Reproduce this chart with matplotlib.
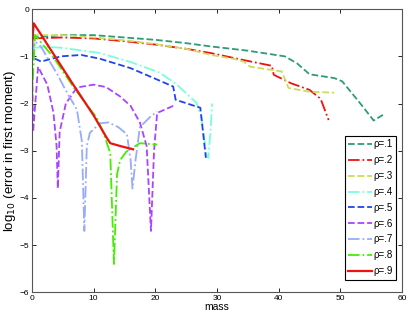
import matplotlib
matplotlib.use("Agg")
import matplotlib.pyplot as plt

plt.rcParams['font.family'] = ['Liberation Sans', 'DejaVu Sans']

# rho = .1
x1 = [0, 5, 10, 15, 20, 25, 29, 35, 41, 43, 45, 49, 50.3, 53, 55.4, 56.9]
y1 = [-0.6, -0.55, -0.55, -0.6, -0.65, -0.72, -0.79, -0.88, -1.0, -1.15, -1.38, -1.46, -1.53, -1.96, -2.36, -2.24]
# rho = .2
x2 = [0, 5, 10, 15, 20, 25, 29, 34, 38.9, 39.2, 42, 45, 46.8, 48.1]
y2 = [-0.62, -0.6, -0.62, -0.68, -0.75, -0.84, -0.93, -1.07, -1.2, -1.39, -1.57, -1.71, -1.9, -2.35]
# rho = .3
x3 = [0, 5, 10, 15, 20, 25, 29, 33, 34.3, 35.4, 40.5, 41.6, 45, 49]
y3 = [-0.55, -0.55, -0.6, -0.66, -0.74, -0.84, -0.97, -1.06, -1.11, -1.22, -1.32, -1.67, -1.75, -1.77]
# rho = .4
x4 = [0, 2.6, 5, 11, 16, 20.8, 23.5, 26.7, 27.5, 28.3, 28.6, 29, 29.2]
y4 = [-0.82, -0.8, -0.82, -0.93, -1.12, -1.35, -1.6, -1.99, -2.3, -3.1, -3.15, -2.5, -2.0]
# rho = .5
x5 = [0, 0.5, 1.5, 4.7, 8, 11, 16, 20.8, 22.9, 23.3, 27.3, 28.2]
y5 = [-0.85, -1.05, -1.11, -1.0, -0.97, -1.05, -1.25, -1.52, -1.64, -1.92, -2.09, -3.15]
# rho = .6
x6 = [0, 0.2, 1, 2.5, 3.5, 4, 4.2, 4.5, 5.5, 7.3, 10, 12, 14.3, 16, 17.5, 18.6, 19.3, 19.8, 20.3, 22.9]
y6 = [-1.0, -2.6, -1.22, -1.6, -2.2, -2.9, -3.8, -2.6, -2.0, -1.66, -1.6, -1.65, -1.85, -2.05, -2.4, -2.9, -4.7, -3.0, -2.2, -2.05]
# rho = .7
x7 = [0, 0.5, 1.5, 2.6, 4, 5.4, 7.3, 8.1, 8.5, 8.9, 9.4, 11, 12.4, 14, 15.4, 16, 16.3, 16.8, 17.5, 19.2, 20.3]
y7 = [-0.95, -0.68, -0.8, -1.05, -1.35, -1.7, -2.13, -2.8, -4.7, -2.9, -2.62, -2.42, -2.4, -2.5, -2.65, -3.2, -3.8, -3.2, -2.5, -2.28, -2.17]
# rho = .8
x8 = [0, 0.5, 3.5, 7, 10.5, 11.6, 12.7, 13.3, 13.8, 14.3, 15.3, 17.5, 20.3]
y8 = [-1.9, -0.55, -1.02, -1.7, -2.3, -2.62, -3.05, -5.4, -3.5, -3.2, -3.02, -2.84, -2.87]
# rho = .9
x9 = [0, 0.3, 3.5, 6.7, 10, 12.1, 12.7, 14.3, 16.4]
y9 = [-0.8, -0.3, -0.95, -1.6, -2.25, -2.72, -2.84, -2.9, -2.97]

labels = ["ρ=.1", "ρ=.2", "ρ=.3", "ρ=.4", "ρ=.5", "ρ=.6", "ρ=.7", "ρ=.8", "ρ=.9"]
xs = [x1, x2, x3, x4, x5, x6, x7, x8, x9]
ys = [y1, y2, y3, y4, y5, y6, y7, y8, y9]
colors = ["#2e9b7a", "#ee1111", "#ccdd55", "#77ffdd", "#2244ee", "#aa44ff", "#99aaff", "#44ee00", "#ee1111"]
styles = ["--", "-.", "--", "-.", "--", "--", "-.", "-.", "-"]
widths = [1.3, 1.3, 1.3, 1.3, 1.3, 1.3, 1.3, 1.3, 1.6]

fig = plt.figure(figsize=(4.09, 3.16), dpi=100)
ax = fig.add_axes([0.078, 0.075, 0.905, 0.896])
for x, y, c, s, w, l in zip(xs, ys, colors, styles, widths, labels):
    ax.plot(x, y, color=c, linestyle=s, linewidth=w, label=l)

ax.set_xlim(0, 60)
ax.set_ylim(-6, 0)
ax.set_xticks(range(0, 61, 10))
ax.set_yticks(range(-6, 1))
ax.tick_params(direction="in", top=True, right=True, labelsize=6, length=3, width=0.6, pad=2)
for sp in ax.spines.values():
    sp.set_linewidth(0.8)
    sp.set_color("#555555")
ax.set_xlabel("mass", fontsize=7.5, labelpad=0)
ax.set_ylabel("log$_{10}$ (error in first moment)", fontsize=9.5, labelpad=1)
leg = ax.legend(loc="lower right", bbox_to_anchor=(0.985, 0.045), borderaxespad=0,
                fontsize=7, fancybox=False, framealpha=1,
                edgecolor="black", handlelength=2.4, handletextpad=0.2,
                labelspacing=0.6, borderpad=0.35)
leg.get_frame().set_linewidth(0.8)
fig.savefig("out.png", dpi=100)
